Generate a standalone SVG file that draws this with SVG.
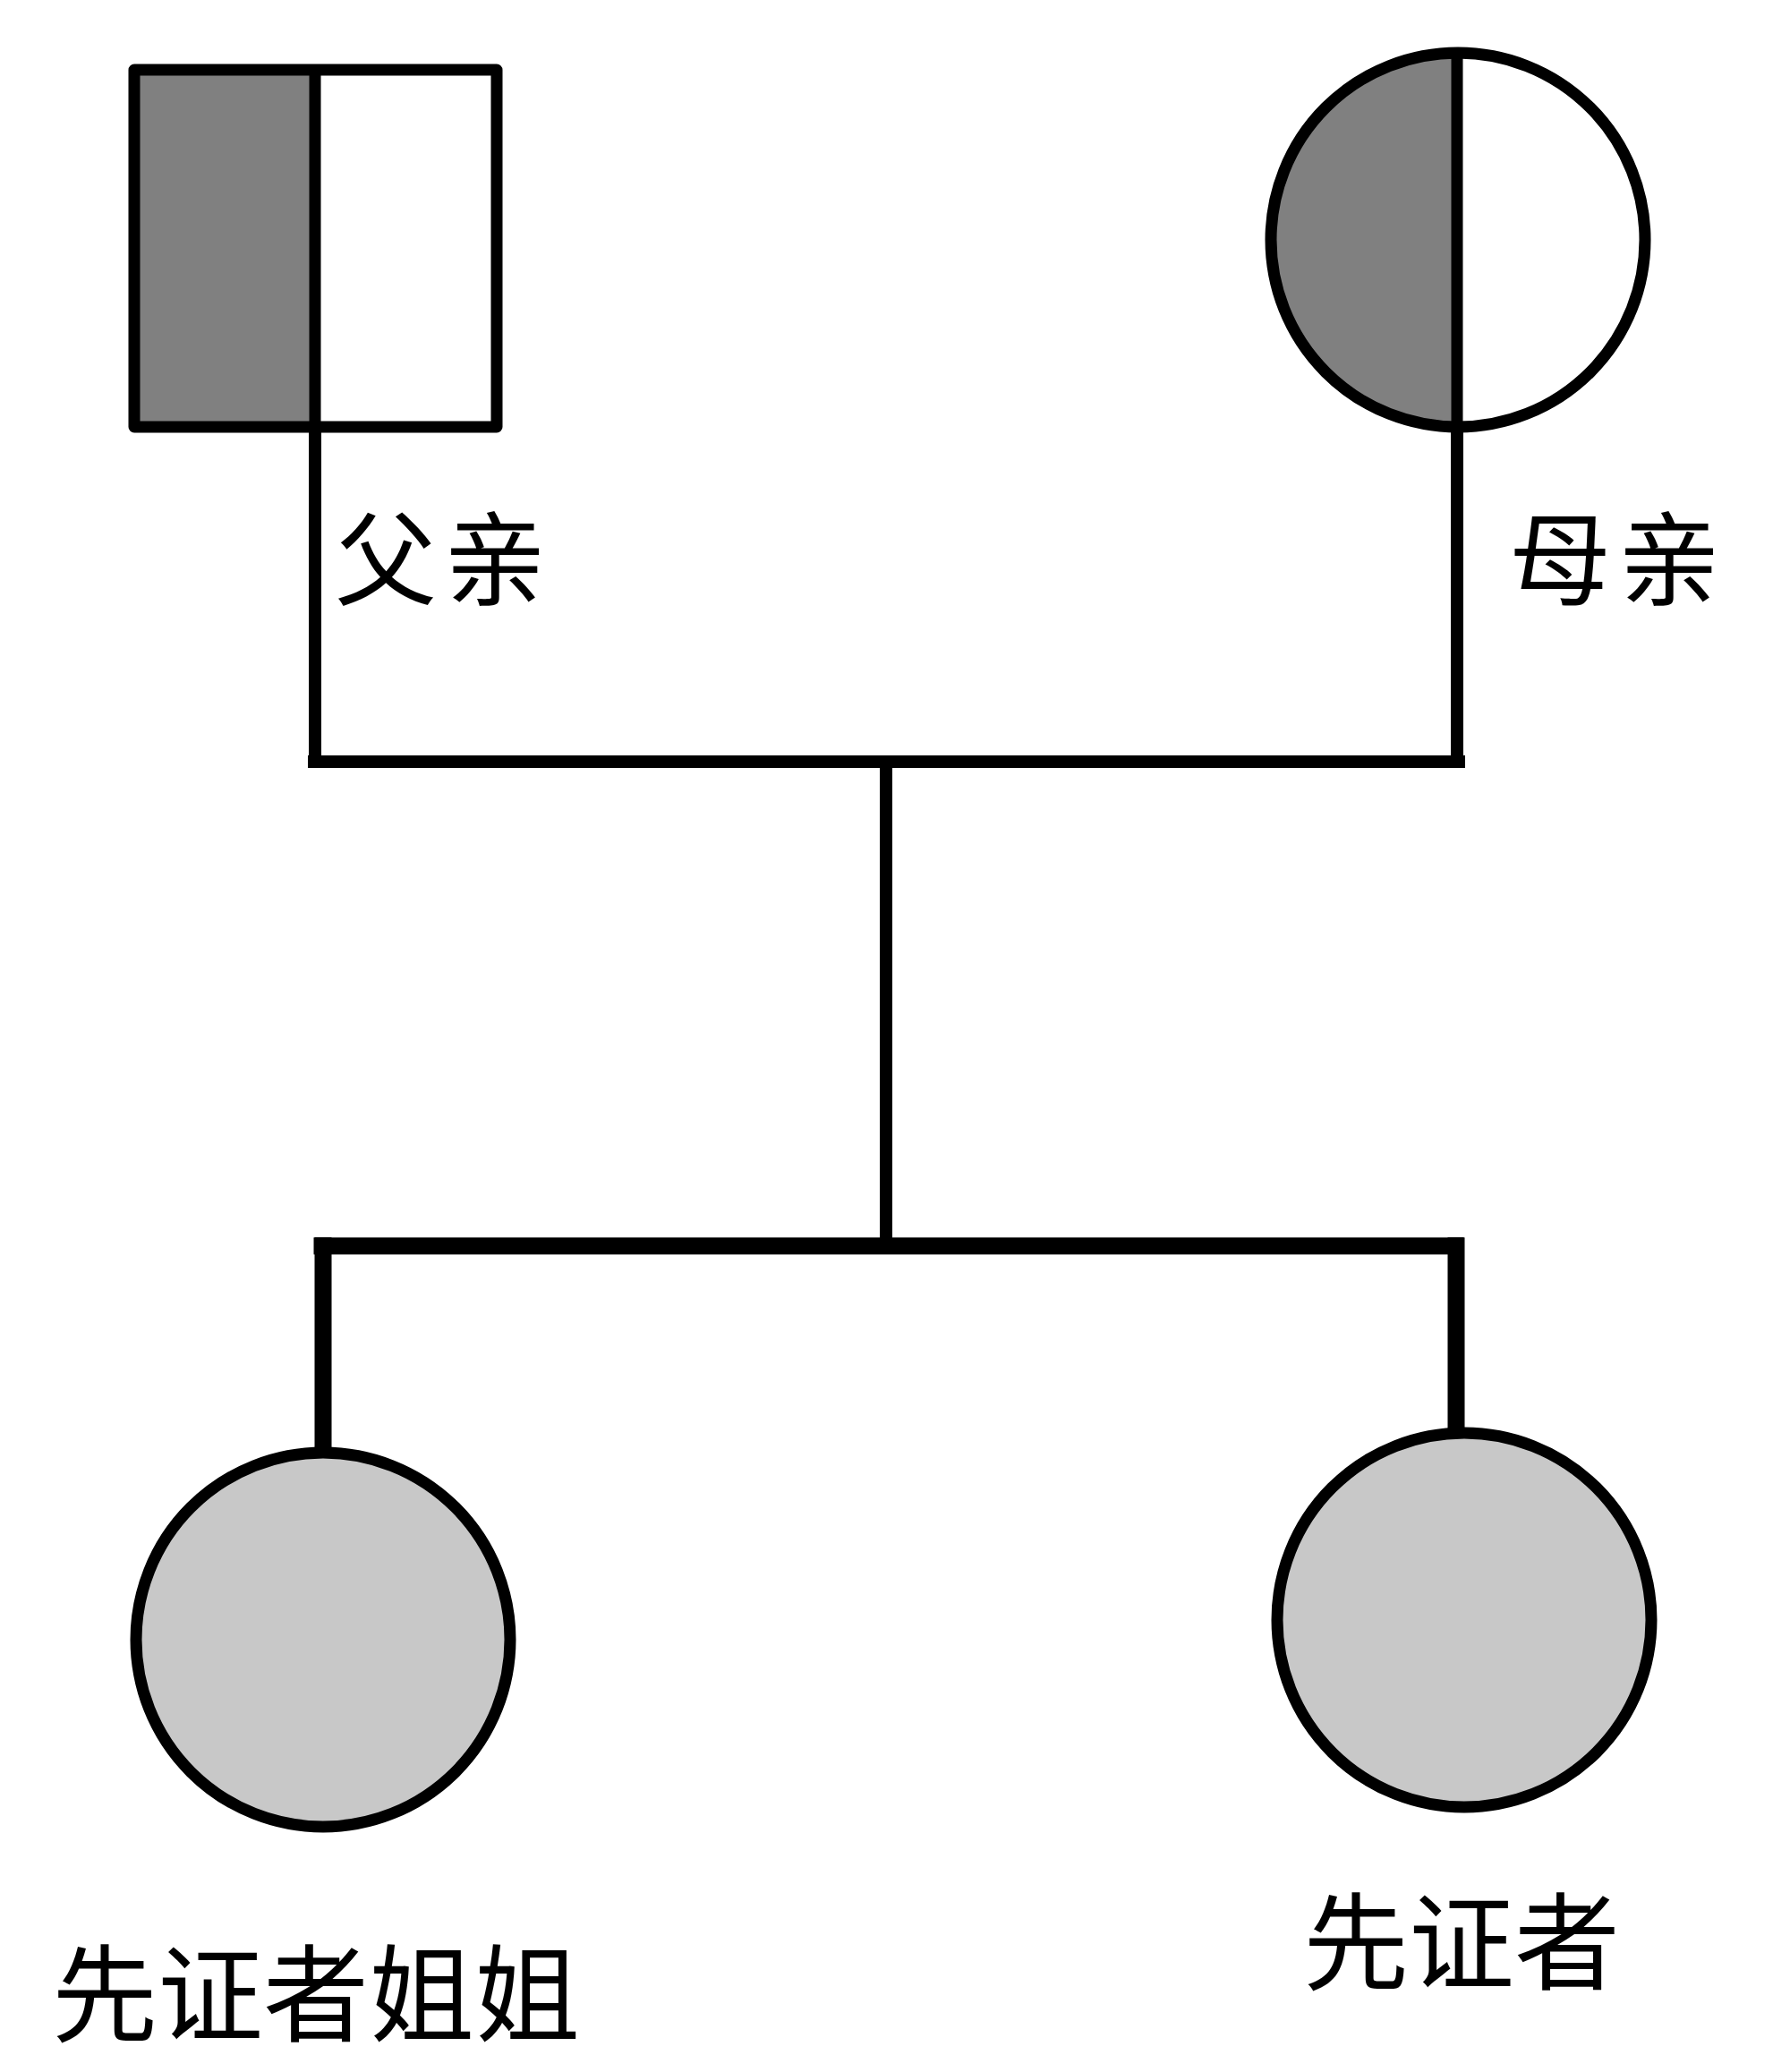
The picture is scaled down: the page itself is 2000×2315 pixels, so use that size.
<svg xmlns="http://www.w3.org/2000/svg" width="2000" height="2315" viewBox="0 0 2000 2315">
<style>
.ln{stroke:#000;fill:none;stroke-linecap:square}
.sh{stroke:#000;stroke-width:13}
.lbl{font-family:"Noto Sans CJK SC","Noto Sans",sans-serif;fill:#000}
.par{font-size:114px;letter-spacing:8px}
</style>
<rect width="2000" height="2315" fill="#fff"/>
<g id="connectors">
<path class="ln" stroke-width="14" d="M352,484 L352,851"/>
<path class="ln" stroke-width="14" d="M1628,477 L1628,851"/>
<path class="ln" stroke-width="14" d="M351,851 L1630,851"/>
<path class="ln" stroke-width="14" d="M990,851 L990,1380"/>
<path class="ln" stroke-width="19" d="M360,1392 L1626,1392"/>
<path class="ln" stroke-width="19" d="M361,1392 L361,1620"/>
<path class="ln" stroke-width="19" d="M1627,1392 L1627,1598"/>
</g>
<g id="father">
<rect x="150" y="78" width="202" height="399" fill="#808080"/>
<rect x="352" y="78" width="203" height="399" fill="#fff"/>
<rect class="sh" x="150" y="78" width="405" height="399" fill="none" stroke-linejoin="round"/>
<line class="sh" x1="352" y1="78" x2="352" y2="484"/>
<text class="lbl par" x="374" y="667">父亲</text>
</g>
<g id="mother">
<circle cx="1629" cy="268" r="209" fill="#fff"/>
<path d="M1628,59 A209,209 0 0 0 1628,477 Z" fill="#808080"/>
<circle class="sh" cx="1629" cy="268" r="209" fill="none"/>
<line class="sh" x1="1628" y1="59" x2="1628" y2="477"/>
<text class="lbl par" x="1686" y="667">母亲</text>
</g>
<g id="sister">
<circle class="sh" cx="361" cy="1832" r="209" fill="#c8c8c8"/>
<text class="lbl" x="58" y="2272" font-size="118">先证者姐姐</text>
</g>
<g id="proband">
<circle class="sh" cx="1636" cy="1810" r="209" fill="#c8c8c8"/>
<text class="lbl" x="1456" y="2214" font-size="118">先证者</text>
</g>
</svg>
